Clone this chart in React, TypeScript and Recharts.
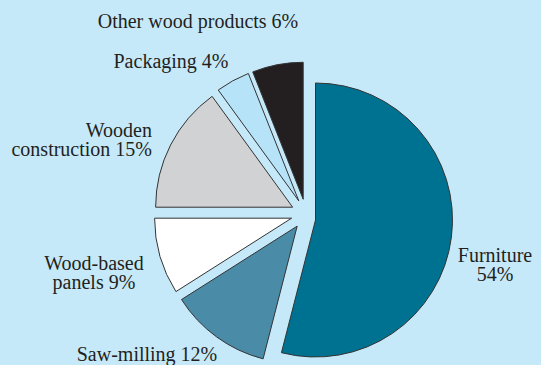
import { Cell, Pie, PieChart, Sector } from 'recharts'

const categories = [
  'Furniture',
  'Saw-milling',
  'Wood-based panels',
  'Wooden construction',
  'Packaging',
  'Other wood products',
]
const shares = [54, 12, 9, 15, 4, 6]
const labelLines = [
  ['Furniture', '54%'],
  ['Saw-milling 12%'],
  ['Wood-based', 'panels 9%'],
  ['Wooden', 'construction 15%'],
  ['Packaging 4%'],
  ['Other wood products 6%'],
]

const data = categories.map((name, i) => ({ name, value: shares[i] }))

const COLORS = ['#007291', '#4a8ca8', '#ffffff', '#d1d2d4', '#b6e3f7', '#231f20']
const BG = '#c6e9f9'
const RAD = Math.PI / 180
const EXPLODE = 15
const FONT = 'Liberation Serif'

// hand placed label anchors, like the original layout
const LABEL_POS: Record<string, { x: number; y: number; anchor: 'start' | 'middle' | 'end' }> = {
  Furniture: { x: 495, y: 262, anchor: 'middle' },
  'Saw-milling': { x: 147, y: 361, anchor: 'middle' },
  'Wood-based panels': { x: 94, y: 270, anchor: 'middle' },
  'Wooden construction': { x: 152, y: 137, anchor: 'end' },
  Packaging: { x: 171, y: 68, anchor: 'middle' },
  'Other wood products': { x: 198, y: 28, anchor: 'middle' },
}

function ExplodedSector(props: any) {
  const { cx, cy, midAngle } = props
  const name = props.payload?.name ?? props.name
  let dx = EXPLODE * Math.cos(-midAngle * RAD)
  let dy = EXPLODE * Math.sin(-midAngle * RAD)
  if (name === 'Furniture') {
    dx = 9.5
    dy = 6
  }
  return <Sector {...props} cx={cx + dx} cy={cy + dy} />
}

function renderLabel(props: any) {
  const name = props.payload?.name ?? props.name
  const idx = categories.indexOf(name)
  const pos = LABEL_POS[name]
  if (!pos || idx < 0) return null
  return (
    <text
      key={name}
      x={pos.x}
      y={pos.y}
      textAnchor={pos.anchor}
      fill="#231f20"
      fontFamily={FONT}
      fontSize={20}
    >
      {labelLines[idx].map((line, j) => (
        <tspan key={j} x={pos.x} dy={j === 0 ? 0 : 19}>
          {line}
        </tspan>
      ))}
    </text>
  )
}

export default function App() {
  return (
    <div style={{ position: 'fixed', left: 0, top: 0, width: 541, height: 365, background: BG, fontFamily: FONT }}>
      <PieChart width={541} height={365} margin={{ top: 0, right: 0, bottom: 0, left: 0 }}>
        <Pie
          data={data}
          dataKey="value"
          nameKey="name"
          cx={306}
          cy={214}
          outerRadius={137}
          startAngle={90}
          endAngle={-270}
          stroke="#333333"
          strokeWidth={1}
          labelLine={false}
          label={renderLabel}
          shape={ExplodedSector}
          activeShape={ExplodedSector}
          inactiveShape={ExplodedSector}
          isAnimationActive={false}
        >
          {data.map((d, i) => (
            <Cell key={d.name} fill={COLORS[i]} />
          ))}
        </Pie>
      </PieChart>
    </div>
  )
}
